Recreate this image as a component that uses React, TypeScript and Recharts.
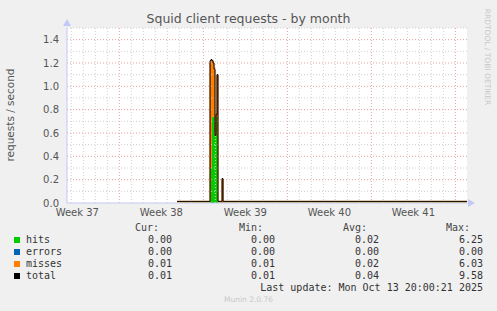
import { ComposedChart, Area, Line, XAxis, YAxis, CartesianGrid, ReferenceLine } from 'recharts';

// time in days (day 7 = start of week 38 grid line), one sample per pixel column near the spike
const times = [11.81, 14.56, 14.64, 14.72, 14.81, 14.89, 14.97, 15.06, 15.14, 15.22, 15.56, 15.64, 35.89, 35.97];
const hits = [0.004, 0.02, 0.3, 0.74, 0.74, 0.74, 0.58, 0.74, 0.74, 0.004, 0.0, 0.004, 0.004, 0.004];
const errors = [0, 0, 0, 0, 0, 0, 0, 0, 0, 0, 0, 0, 0, 0];
const misses = [0.01, 1.18, 0.92, 0.48, 0.45, 0.4, 0.0, 0.02, 0.36, 0.01, 0.2, 0.01, 0.01, 0.01];
const total = [0.014, 1.22, 1.23, 1.22, 1.2, 1.15, 0.58, 0.76, 1.1, 0.014, 0.21, 0.014, 0.014, 0.014];

const weekTicks = [3.5, 10.5, 17.5, 24.5, 31.5];
const weekLabels = ['Week 37', 'Week 38', 'Week 39', 'Week 40', 'Week 41'];
const weekLines = [7, 14, 21, 28, 35];
const dayLines = [3, 4, 5, 6, 8, 9, 10, 11, 12, 13, 15, 16, 17, 18, 19, 20, 22, 23, 24, 25, 26, 27, 29, 30, 31, 32, 33, 34];
const yTicks = [0, 0.2, 0.4, 0.6, 0.8, 1.0, 1.2, 1.4];
const yMinor = [0.1, 0.3, 0.5, 0.7, 0.9, 1.1, 1.3, 1.5];

const legendNames = ['hits', 'errors', 'misses', 'total'];
const legendColors = ['#00CC00', '#0066B3', '#FF8000', '#000000'];
const curValues = ['0.00', '0.00', '0.01', '0.01'];
const minValues = ['0.00', '0.00', '0.01', '0.01'];
const avgValues = ['0.02', '0.00', '0.02', '0.04'];
const maxValues = ['6.25', '0.00', '6.03', '9.58'];

const data = times.map((t, i) => ({ t, hits: hits[i], errors: errors[i], misses: misses[i], total: total[i] }));

const mono = '"DejaVu Sans Mono", monospace';
const sans = '"DejaVu Sans", sans-serif';
const axisColor = '#c4c8f8';

function Cell({ right, top, text, color = '#333' }: { right: number; top: number; text: string; color?: string }) {
  return (
    <div style={{ position: 'absolute', right: 497 - right, top, fontFamily: mono, fontSize: 10, lineHeight: '12px', color, whiteSpace: 'pre' }}>
      {text}
    </div>
  );
}

export default function App() {
  const rowTop = [234, 246, 258, 270];
  return (
    <div style={{ position: 'relative', width: 497, height: 311, background: '#f0f0f0', overflow: 'hidden' }}>
      <style>{'body{margin:0}'}</style>
      <div style={{ position: 'absolute', left: 0, top: 11, width: 497, textAlign: 'center', fontFamily: sans, fontSize: 12.5, color: '#555' }}>
        Squid client requests - by month
      </div>
      <div style={{ position: 'absolute', left: 10, top: 115, transform: 'translate(-50%, -50%) rotate(-90deg)', fontFamily: sans, fontSize: 10.5, color: '#555', whiteSpace: 'nowrap' }}>
        requests / second
      </div>
      <div style={{ position: 'absolute', left: 487, top: 57, transform: 'translate(-50%, -50%) rotate(90deg)', fontFamily: sans, fontSize: 7.5, color: '#c8c8c8', whiteSpace: 'nowrap' }}>
        RRDTOOL / TOBI OETIKER
      </div>
      <div style={{ position: 'absolute', left: 0, top: 0 }}>
        <ComposedChart width={497} height={311} data={data} margin={{ top: 28, right: 30, left: 0, bottom: 78 }}>
          <CartesianGrid horizontal={false} vertical={false} fill="#ffffff" />
          {dayLines.map((d) => (
            <ReferenceLine key={'d' + d} x={d} stroke="#d0d0d0" strokeDasharray="1 2" />
          ))}
          {yMinor.map((v) => (
            <ReferenceLine key={'m' + v} y={v} stroke="#d0d0d0" strokeDasharray="1 2" />
          ))}
          {weekLines.map((d) => (
            <ReferenceLine key={'w' + d} x={d} stroke="#e8a0a0" strokeDasharray="1 2" />
          ))}
          {yTicks.slice(1).map((v) => (
            <ReferenceLine key={'y' + v} y={v} stroke="#e8a0a0" strokeDasharray="1 2" />
          ))}
          <XAxis
            dataKey="t"
            type="number"
            domain={[2.64, 35.97]}
            ticks={weekTicks}
            tickFormatter={(v) => weekLabels[weekTicks.indexOf(v)]}
            interval={0}
            height={30}
            tickLine={false}
            tickSize={2}
            tickMargin={4}
            axisLine={{ stroke: axisColor }}
            tick={{ fill: '#555', fontSize: 10, fontFamily: sans }}
            allowDataOverflow
          />
          <YAxis
            type="number"
            domain={[0, 1.5]}
            ticks={yTicks}
            tickFormatter={(v) => v.toFixed(1)}
            width={67}
            tickLine={false}
            tickSize={4}
            tickMargin={4}
            axisLine={{ stroke: axisColor }}
            tick={{ fill: '#555', fontSize: 10, fontFamily: sans }}
            allowDataOverflow
          />
          <Area type="stepAfter" dataKey="hits" stackId="a" stroke="none" fill="#00CC00" fillOpacity={1} isAnimationActive={false} />
          <Area type="stepAfter" dataKey="errors" stackId="a" stroke="none" fill="#0066B3" fillOpacity={1} isAnimationActive={false} />
          <Area type="stepAfter" dataKey="misses" stackId="a" stroke="#FF8000" strokeWidth={1} fill="#FF8000" fillOpacity={1} isAnimationActive={false} />
          <Line type="stepAfter" dataKey="total" stroke="#000000" strokeWidth={1} dot={false} isAnimationActive={false} />
        </ComposedChart>
      </div>
      <svg width={497} height={311} style={{ position: 'absolute', left: 0, top: 0, pointerEvents: 'none' }}>
        <polygon points="63,26 71,26 67,19" fill={axisColor} />
        <polygon points="468,199 468,207 475,203" fill={axisColor} />
      </svg>
      <Cell right={159} top={222} text="Cur:" color="#444" />
      <Cell right={263} top={222} text="Min:" color="#444" />
      <Cell right={367} top={222} text="Avg:" color="#444" />
      <Cell right={470} top={222} text="Max:" color="#444" />
      {legendNames.map((name, i) => (
        <div key={name}>
          <div style={{ position: 'absolute', left: 14, top: rowTop[i] + 3, width: 6, height: 6, background: legendColors[i] }} />
          <div style={{ position: 'absolute', left: 26, top: rowTop[i], fontFamily: mono, fontSize: 10, lineHeight: '12px', color: '#333' }}>{name}</div>
          <Cell right={172} top={rowTop[i]} text={curValues[i]} />
          <Cell right={275} top={rowTop[i]} text={minValues[i]} />
          <Cell right={379} top={rowTop[i]} text={avgValues[i]} />
          <Cell right={483} top={rowTop[i]} text={maxValues[i]} />
        </div>
      ))}
      <Cell right={483} top={282} text="Last update: Mon Oct 13 20:00:21 2025" />
      <div style={{ position: 'absolute', left: 0, top: 295, width: 497, textAlign: 'center', fontFamily: sans, fontSize: 7.5, color: '#c8c8c8' }}>
        Munin 2.0.76
      </div>
    </div>
  );
}
